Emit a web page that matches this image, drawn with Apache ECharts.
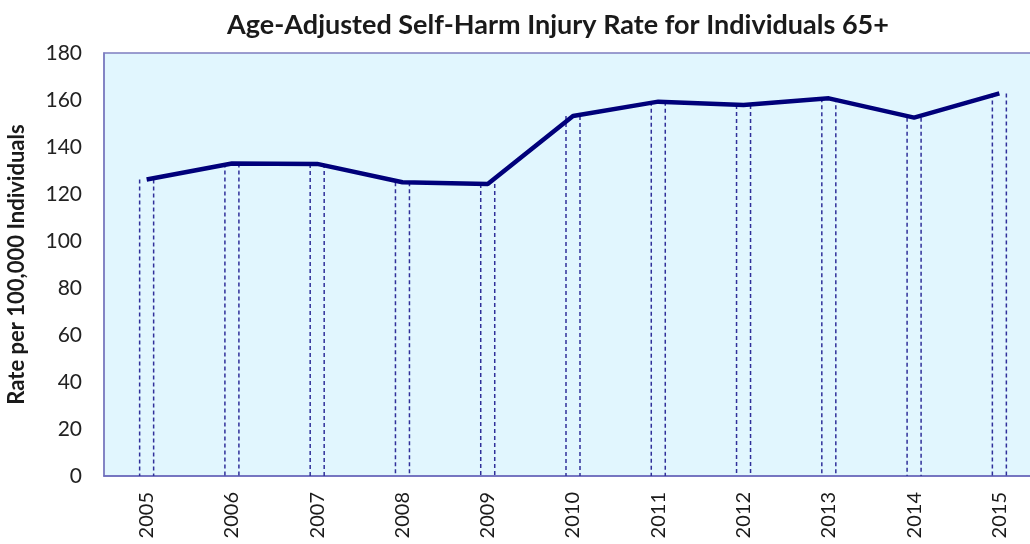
<!DOCTYPE html>
<html>
<head>
<meta charset="utf-8">
<script src="https://cdn.jsdelivr.net/npm/echarts@6/dist/echarts.min.js"></script>
<style>
html,body{margin:0;padding:0;background:#fff;}
#chart{width:1030px;height:544px;}
</style>
</head>
<body>
<div id="chart"></div>
<script>
const years = ['2005','2006','2007','2008','2009','2010','2011','2012','2013','2014','2015'];
const rates = [126.2, 133.0, 132.8, 125.0, 124.3, 153.2, 159.3, 157.9, 160.7, 152.5, 162.8];
const yTicks = {min: 0, max: 180, interval: 20};

const chart = echarts.init(document.getElementById('chart'));
const FONT = 'Lato, "Open Sans", sans-serif';
chart.setOption({
  animation: false,
  backgroundColor: '#ffffff',
  title: {
    text: 'Age-Adjusted Self-Harm Injury Rate for Individuals 65+',
    left: 553, top: 7, textAlign: 'center',
    textStyle: {fontFamily: FONT, fontSize: 27, fontWeight: 'bold', color: '#1a1a1a'}
  },
  grid: {
    left: 104, top: 53, bottom: 68, width: 938,
    outerBoundsMode: 'none', containLabel: false,
    show: true, backgroundColor: '#e1f6fe', borderColor: '#7d7dc0', borderWidth: 1.5
  },
  xAxis: {
    type: 'category', data: years, boundaryGap: true,
    axisLine: {show: true, lineStyle: {color: '#6a6abd', width: 1.5}},
    axisTick: {show: false},
    axisLabel: {rotate: 90, margin: 16, fontFamily: FONT, fontSize: 20, color: '#1a1a1a', interval: 0}
  },
  yAxis: {
    type: 'value', min: yTicks.min, max: yTicks.max, interval: yTicks.interval,
    name: 'Rate per 100,000 Individuals', nameLocation: 'middle', nameGap: 76, nameRotate: 90,
    nameTextStyle: {fontFamily: FONT, fontSize: 22, fontWeight: 'bold', color: '#1a1a1a'},
    axisLine: {show: true, lineStyle: {color: '#7d7dc0', width: 1.5}},
    axisTick: {show: false},
    splitLine: {show: false},
    axisLabel: {margin: 22, fontFamily: FONT, fontSize: 21, color: '#222'}
  },
  series: [
    {
      type: 'custom',
      data: rates.map((v, i) => [i, v]),
      z: 1,
      renderItem: function (params, api) {
        const top = api.coord([api.value(0), api.value(1)]);
        const base = api.coord([api.value(0), 0]);
        const off = 7;
        const style = {stroke: '#30309a', lineWidth: 1.5, lineDash: [4, 3]};
        return {
          type: 'group',
          children: [
            {type: 'line', shape: {x1: top[0] - off, y1: top[1], x2: top[0] - off, y2: base[1]}, style: style},
            {type: 'line', shape: {x1: top[0] + off, y1: top[1], x2: top[0] + off, y2: base[1]}, style: style}
          ]
        };
      }
    },
    {
      type: 'line', data: rates, z: 3,
      symbol: 'none',
      lineStyle: {color: '#00007a', width: 4.5}
    }
  ]
});
</script>
</body>
</html>
